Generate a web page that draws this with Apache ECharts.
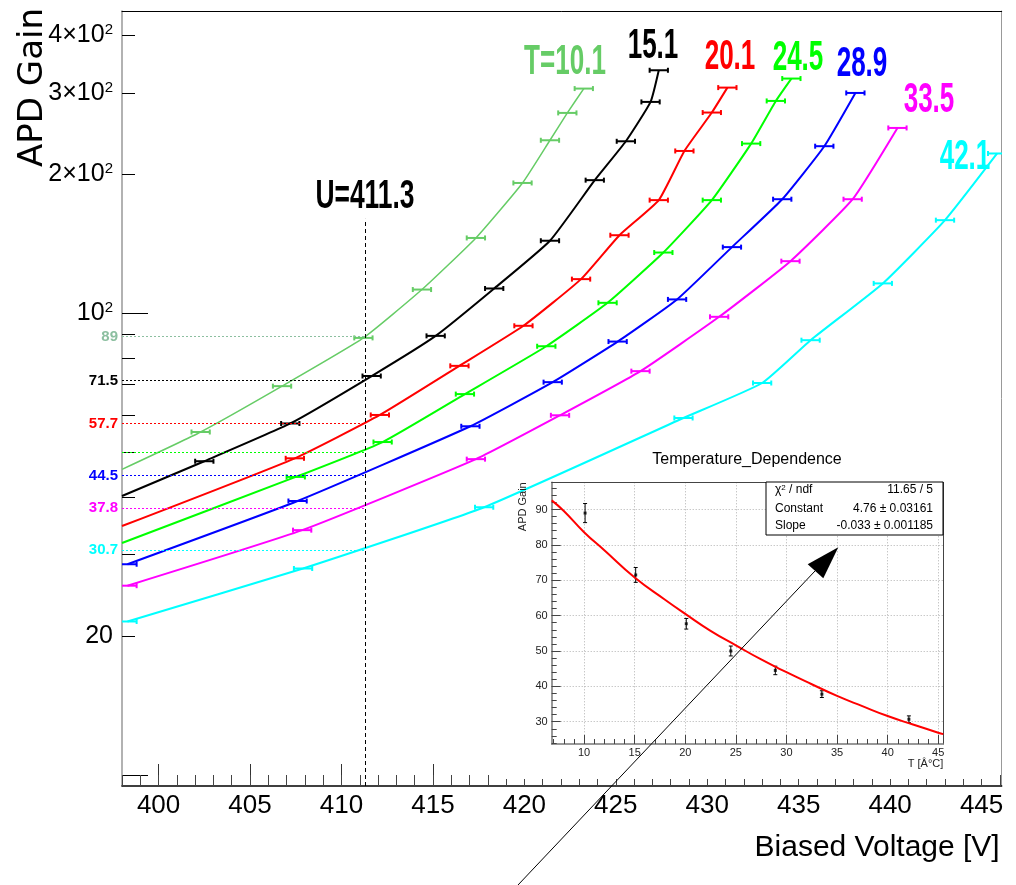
<!DOCTYPE html>
<html>
<head>
<meta charset="utf-8">
<title>APD Gain vs Biased Voltage</title>
<script src="https://cdn.jsdelivr.net/npm/echarts@6.0.0/dist/echarts.min.js"></script>
<style>
html, body { margin: 0; padding: 0; background: #ffffff; }
#main { width: 1016px; height: 885px; }
</style>
</head>
<body>
<div id="main"></div>
<script>
var HELV = "'Liberation Sans',Arial,Helvetica,sans-serif";

// temperature of each gain curve and its colour
var temps = ['T=10.1', '15.1', '20.1', '24.5', '28.9', '33.5', '42.1'];
var colors = ['#66cc66', '#000000', '#ff0000', '#00ff00', '#0000ff', '#ff00ff', '#00ffff'];
var refColors = ['#8cbfa0', '#000000', '#ff0000', '#00ff00', '#0000ff', '#ff00ff', '#00ffff'];

// main axes range
var xMin = 398, xMax = 446.1;
var yMin = 9.467, yMax = 451.1;

// gain where a curve enters the frame at the left edge (no marker there)
var edgeGain = [45.9, 40.2, 34.6, 31.8, null, null, null];

// measured points: biased voltage [V] and APD gain
var volt_10_1 = [402.3, 406.75, 411.2, 414.4, 417.35, 419.9, 421.4, 422.35, 423.25];
var gain_10_1 = [55.3, 69.5, 88.4, 112.5, 145.5, 191.4, 236.8, 271.4, 306.4];
var volt_15_1 = [402.5, 407.2, 411.65, 415.15, 418.35, 421.4, 423.85, 425.55, 426.9, 427.35];
var gain_15_1 = [47.8, 57.7, 73.1, 89.3, 113.1, 143.5, 194.1, 235.6, 286.7, 335.7];
var volt_20_1 = [407.45, 412.1, 416.45, 419.95, 423.1, 425.2, 427.35, 428.75, 430.25, 431.1];
var gain_20_1 = [48.5, 60.2, 76.9, 93.9, 118.5, 147.5, 175.7, 224.5, 271.9, 307.9];
var volt_24_5 = [407.5, 412.25, 416.75, 421.2, 424.55, 427.6, 430.25, 432.4, 433.75, 434.6];
var gain_24_5 = [44.2, 52.6, 66.8, 84.8, 105.3, 135.3, 175.7, 232.9, 288.1, 322.1];
var volt_28_9 = [398.3, 407.6, 417.05, 421.55, 425.1, 428.35, 431.35, 434.1, 436.4, 438.1];
var gain_28_9 = [28.6, 39.2, 56.9, 70.9, 86.8, 107.1, 139.0, 176.5, 229.9, 299.8];
var volt_33_5 = [398.3, 407.85, 417.35, 421.95, 426.35, 430.65, 434.55, 437.95, 440.4];
var gain_33_5 = [25.7, 33.9, 48.3, 60.1, 74.9, 98.2, 129.6, 176.5, 251.8];
var volt_42_1 = [398.3, 407.9, 417.8, 428.7, 433.0, 435.65, 439.6, 443.0, 445.85];
var gain_42_1 = [21.5, 28.0, 38.0, 59.3, 70.6, 87.4, 116.0, 159.0, 221.7];
var voltErr = 0.5;

// gain of each curve at U = 411.3 V
var refU = 411.3;
var refGain = [89, 71.5, 57.7, 50, 44.5, 37.8, 30.7];
var refText = ['89', '71.5', '57.7', '', '44.5', '37.8', '30.7'];
var uLineTop = 160;

// tick values
var xMajor = [400, 405, 410, 415, 420, 425, 430, 435, 440, 445];
var xMinor = [];
for (var t = 398; t <= 446; t++) xMinor.push(t);
var yMajor = [10, 100];
var yMinor = [20, 30, 40, 50, 60, 70, 80, 90, 200, 300, 400];
var yLabels = [20, 100, 200, 300, 400];

// inset: gain at 411.3 V vs temperature
var insetT = [10.1, 15.1, 20.1, 24.5, 28.9, 33.5, 42.1];
var insetGain = [89, 71.5, 57.7, 50.0, 44.5, 37.8, 30.7];
var insetErr = [2.7, 2.1, 1.5, 1.4, 1.2, 0.95, 0.95];
var fitT = [6.8, 8, 10, 12, 15, 18, 20, 22.5, 25, 27.5, 30, 32.5, 35, 37.5, 40, 42.5, 45, 45.5];
var fitGain = [92.6, 89.6, 83.6, 78.5, 70.8, 64.5, 60.5, 55.7, 51.6, 47.6, 44.0, 40.6, 37.3, 34.4, 31.6, 29.2, 26.9, 26.5];
var insetXMajor = [10, 15, 20, 25, 30, 35, 40, 45];
var insetXMinor = [];
for (var t2 = 7; t2 <= 45; t2++) insetXMinor.push(t2);
var insetYMajor = [30, 40, 50, 60, 70, 80, 90];
var insetYMinor = [];
for (var t3 = 24; t3 <= 96; t3 += 2) insetYMinor.push(t3);
var statRows = [['χ{s|2} / ndf', '11.65 / 5'], ['Constant', '4.76 ± 0.03161'], ['Slope', '-0.033 ± 0.001185']];

var curveVolts = [volt_10_1, volt_15_1, volt_20_1, volt_24_5, volt_28_9, volt_33_5, volt_42_1];
var curveGains = [gain_10_1, gain_15_1, gain_20_1, gain_24_5, gain_28_9, gain_33_5, gain_42_1];

function hBars(color) {
    return function (params, api) {
        var v = api.value(0), g = api.value(1);
        var a = api.coord([v - voltErr, g]);
        var b = api.coord([v + voltErr, g]);
        var st = { stroke: color, lineWidth: 2 };
        return {
            type: 'group',
            children: [
                { type: 'line', shape: { x1: a[0], y1: a[1], x2: b[0], y2: b[1] }, style: st },
                { type: 'line', shape: { x1: a[0], y1: a[1] - 2.5, x2: a[0], y2: a[1] + 2.5 }, style: st },
                { type: 'line', shape: { x1: b[0], y1: b[1] - 2.5, x2: b[0], y2: b[1] + 2.5 }, style: st }
            ]
        };
    };
}

function vBars(params, api) {
    var x = api.value(0), g = api.value(1), e = api.value(2);
    var a = api.coord([x, g - e]);
    var b = api.coord([x, g + e]);
    var st = { stroke: '#000', lineWidth: 1 };
    return {
        type: 'group',
        children: [
            { type: 'line', shape: { x1: a[0], y1: a[1], x2: b[0], y2: b[1] }, style: st },
            { type: 'line', shape: { x1: a[0] - 2, y1: a[1], x2: a[0] + 2, y2: a[1] }, style: st },
            { type: 'line', shape: { x1: b[0] - 2, y1: b[1], x2: b[0] + 2, y2: b[1] }, style: st }
        ]
    };
}

function yLabelFmt(value) {
    var v = Math.round(value);
    if (v === 100) return '10{sup|2}';
    if (v >= 200) return (v / 100) + '×10{sup|2}';
    return String(v);
}

var series = [];
for (var i = 0; i < curveVolts.length; i++) {
    var pts = [];
    var bars = [];
    if (edgeGain[i] != null) pts.push([xMin, edgeGain[i]]);
    for (var k = 0; k < curveVolts[i].length; k++) {
        pts.push([curveVolts[i][k], curveGains[i][k]]);
        bars.push([curveVolts[i][k], curveGains[i][k]]);
    }
    series.push({
        name: temps[i],
        type: 'line',
        xAxisIndex: 0,
        yAxisIndex: 0,
        data: pts,
        showSymbol: false,
        smooth: 0.15,
        clip: true,
        silent: true,
        lineStyle: { color: colors[i], width: i === 0 ? 1.5 : 2 },
        itemStyle: { color: colors[i] }
    });
    series.push({
        type: 'custom',
        xAxisIndex: 0,
        yAxisIndex: 0,
        data: bars,
        clip: true,
        silent: true,
        renderItem: hBars(colors[i])
    });
}

// dotted guide lines at U = 411.3 and the dashed vertical line
var refLines = [];
for (var j = 0; j < refGain.length; j++) {
    refLines.push([
        {
            coord: [xMin, refGain[j]],
            lineStyle: { color: refColors[j], type: [2, 2], width: 1 },
            label: { show: refText[j] !== '', formatter: refText[j], color: refColors[j] }
        },
        { coord: [refU, refGain[j]] }
    ]);
}
refLines.push([
    {
        coord: [refU, yMin],
        lineStyle: { color: '#000', type: [4, 3], width: 1 },
        label: { show: false }
    },
    { coord: [refU, uLineTop] }
]);
series.push({
    type: 'line',
    xAxisIndex: 0,
    yAxisIndex: 0,
    data: [],
    clip: false,
    silent: true,
    markLine: {
        silent: true,
        symbol: 'none',
        animation: false,
        label: { position: 'start', distance: 4, fontFamily: HELV, fontWeight: 'bold', fontSize: 15 },
        data: refLines
    }
});

// inset series
var insetPts = [], insetBars = [], fitPts = [];
for (var m = 0; m < insetT.length; m++) {
    insetPts.push([insetT[m], insetGain[m]]);
    insetBars.push([insetT[m], insetGain[m], insetErr[m]]);
}
for (var n = 0; n < fitT.length; n++) fitPts.push([fitT[n], fitGain[n]]);
series.push({
    type: 'line', xAxisIndex: 3, yAxisIndex: 3, z: 5, data: fitPts,
    showSymbol: false, smooth: true, clip: true, silent: true,
    lineStyle: { color: '#ff0000', width: 2 }
});
series.push({
    type: 'custom', xAxisIndex: 3, yAxisIndex: 3, z: 5, data: insetBars,
    clip: true, silent: true, renderItem: vBars
});
series.push({
    type: 'scatter', xAxisIndex: 3, yAxisIndex: 3, z: 5, data: insetPts,
    symbol: 'rect', symbolSize: 3, silent: true, itemStyle: { color: '#000' }
});

function frameAxis(grid, pos, min, max, color, type) {
    return {
        type: type || 'value', gridIndex: grid, position: pos, min: min, max: max, z: grid === 1 ? 4 : 0,
        axisLine: { show: true, onZero: false, lineStyle: { color: color, width: 1 } },
        axisTick: { show: false }, axisLabel: { show: false }, splitLine: { show: false }
    };
}

var statGraphics = [{
    type: 'rect', shape: { x: 766, y: 482, width: 177, height: 53 },
    style: { fill: '#fff', stroke: '#000', lineWidth: 1 }, z: 6
}];
for (var r = 0; r < statRows.length; r++) {
    var ry = [490, 509, 525.5][r];
    statGraphics.push({
        type: 'text', x: 775, y: ry, z: 7,
        style: { text: statRows[r][0], fontFamily: HELV, fontSize: 12, fill: '#000', verticalAlign: 'middle',
                 rich: { s: { fontSize: 8, verticalAlign: 'top', fontFamily: HELV } } }
    });
    statGraphics.push({
        type: 'text', x: 933, y: ry, z: 7,
        style: { text: statRows[r][1], fontFamily: HELV, fontSize: 12, fill: '#000', align: 'right', verticalAlign: 'middle' }
    });
}

// big condensed annotations: curve temperatures and the U value
var tLabelPos = [[565, 62], [653, 46], [730, 57], [798, 58], [862, 64], [929, 100], [965, 157]];
var tGraphics = [];
for (var q = 0; q < temps.length; q++) {
    tGraphics.push({
        type: 'text', x: tLabelPos[q][0], y: tLabelPos[q][1], z: 7, scaleX: 0.62,
        style: { text: temps[q], fontFamily: HELV, fontWeight: 'bold', fontSize: 42,
                 fill: colors[q], align: 'center', verticalAlign: 'middle' }
    });
}
tGraphics.push({
    type: 'text', x: 365, y: 197, z: 7, scaleX: 0.66,
    style: { text: 'U=' + refU, fontFamily: HELV, fontWeight: 'bold', fontSize: 40,
             fill: '#000', align: 'center', verticalAlign: 'middle' }
});

var option = {
    animation: false,
    backgroundColor: '#ffffff',
    grid: [
        { left: 122, top: 11, right: 14.3, bottom: 99, outerBoundsMode: 'none', containLabel: false },
        { left: 551.7, top: 482.3, width: 391.6, height: 261.7, outerBoundsMode: 'none', containLabel: false }
    ],
    xAxis: [
        {
            type: 'value', gridIndex: 0, position: 'bottom', min: xMin, max: xMax,
            axisLine: { show: true, onZero: false, lineStyle: { color: '#000', width: 1.5 } },
            axisTick: { show: true, inside: true, length: 22, customValues: xMajor, lineStyle: { color: '#333' } },
            axisLabel: { show: true, customValues: xMajor, margin: 7, fontFamily: HELV, fontSize: 26, color: '#000' },
            splitLine: { show: false },
            name: 'Biased Voltage [V]', nameLocation: 'end', nameGap: -2, nameMoveOverlap: false,
            nameTextStyle: { fontFamily: HELV, fontSize: 30, color: '#000', align: 'right', verticalAlign: 'top', padding: [47, 0, 0, 0] }
        },
        {
            type: 'value', gridIndex: 0, position: 'bottom', min: xMin, max: xMax,
            axisLine: { show: false, onZero: false },
            axisTick: { show: true, inside: true, length: 11, customValues: xMinor, lineStyle: { color: '#444' } },
            axisLabel: { show: false }, splitLine: { show: false }
        },
        frameAxis(0, 'top', xMin, xMax, '#000'),
        {
            type: 'value', gridIndex: 1, position: 'bottom', min: 6.8, max: 45.5, z: 4,
            axisLine: { show: true, onZero: false, lineStyle: { color: '#777', width: 1.5 } },
            axisTick: { show: true, inside: true, length: 9, customValues: insetXMajor, lineStyle: { color: '#444' } },
            axisLabel: { show: true, customValues: insetXMajor, margin: 3, fontFamily: HELV, fontSize: 11, color: '#222' },
            splitLine: { show: true, lineStyle: { color: '#b0b0b0', type: [1, 2], width: 1 } },
            name: 'T [Â°C]', nameLocation: 'end', nameGap: 0, nameMoveOverlap: false,
            nameTextStyle: { fontFamily: HELV, fontSize: 11, color: '#222', align: 'right', verticalAlign: 'top', padding: [14, 0, 0, 0] }
        },
        {
            type: 'value', gridIndex: 1, position: 'bottom', min: 6.8, max: 45.5, z: 4,
            axisLine: { show: false, onZero: false },
            axisTick: { show: true, inside: true, length: 5, customValues: insetXMinor, lineStyle: { color: '#444' } },
            axisLabel: { show: false }, splitLine: { show: false }
        },
        frameAxis(1, 'top', 6.8, 45.5, '#444')
    ],
    yAxis: [
        {
            type: 'log', logBase: 10, gridIndex: 0, position: 'left', min: yMin, max: yMax,
            axisLine: { show: true, onZero: false, lineStyle: { color: '#999', width: 1.5 } },
            axisTick: { show: true, inside: true, length: 26, customValues: yMajor, lineStyle: { color: '#000' } },
            axisLabel: {
                show: true, customValues: yLabels, margin: 9, formatter: yLabelFmt,
                fontFamily: HELV, fontSize: 25, color: '#000',
                rich: { sup: { fontFamily: HELV, fontSize: 15, verticalAlign: 'top', color: '#000' } }
            },
            splitLine: { show: false }, minorTick: { show: false },
            name: 'APD Gain', nameLocation: 'end', nameRotate: 90, nameGap: 3, nameMoveOverlap: false,
            nameTextStyle: { fontFamily: "'DejaVu Sans',sans-serif", fontSize: 34, color: '#000', align: 'right', verticalAlign: 'bottom', padding: [0, 0, 72, 0] }
        },
        {
            type: 'log', logBase: 10, gridIndex: 0, position: 'left', min: yMin, max: yMax,
            axisLine: { show: false, onZero: false },
            axisTick: { show: true, inside: true, length: 13, customValues: yMinor, lineStyle: { color: '#000' } },
            axisLabel: { show: false }, splitLine: { show: false }, minorTick: { show: false }
        },
        frameAxis(0, 'right', yMin, yMax, '#999', 'log'),
        {
            type: 'value', gridIndex: 1, position: 'left', min: 23.7, max: 97.7, z: 4,
            axisLine: { show: true, onZero: false, lineStyle: { color: '#777', width: 1.5 } },
            axisTick: { show: true, inside: true, length: 9, customValues: insetYMajor, lineStyle: { color: '#444' } },
            axisLabel: { show: true, customValues: insetYMajor, margin: 4, fontFamily: HELV, fontSize: 11, color: '#222' },
            splitLine: { show: true, lineStyle: { color: '#b0b0b0', type: [1, 2], width: 1 } },
            name: 'APD Gain', nameLocation: 'end', nameRotate: 90, nameGap: 0, nameMoveOverlap: false,
            nameTextStyle: { fontFamily: HELV, fontSize: 11, color: '#222', align: 'right', verticalAlign: 'bottom', padding: [0, 0, 23, 0] }
        },
        {
            type: 'value', gridIndex: 1, position: 'left', min: 23.7, max: 97.7, z: 4,
            axisLine: { show: false, onZero: false },
            axisTick: { show: true, inside: true, length: 5, customValues: insetYMinor, lineStyle: { color: '#444' } },
            axisLabel: { show: false }, splitLine: { show: false }
        },
        frameAxis(1, 'right', 23.7, 97.7, '#444')
    ],
    graphic: [
        // inset pad background
        { type: 'rect', shape: { x: 502, y: 450, width: 490, height: 329 }, style: { fill: '#fff' }, z: 3 },
        {
            type: 'text', x: 747, y: 460, z: 7,
            style: { text: 'Temperature_Dependence', fontFamily: HELV, fontSize: 16, fill: '#000', align: 'center', verticalAlign: 'middle' }
        },
        // arrow
        { type: 'line', shape: { x1: 518, y1: 885, x2: 815, y2: 571 }, style: { stroke: '#000', lineWidth: 1 }, z: 8 },
        { type: 'polygon', shape: { points: [[838.3, 547.3], [807.7, 564.3], [823.3, 578.3]] }, style: { fill: '#000' }, z: 8 }
    ].concat(statGraphics).concat(tGraphics),
    series: series
};

var chart = echarts.init(document.getElementById('main'), null, { renderer: 'canvas' });
chart.setOption(option);
</script>
</body>
</html>
